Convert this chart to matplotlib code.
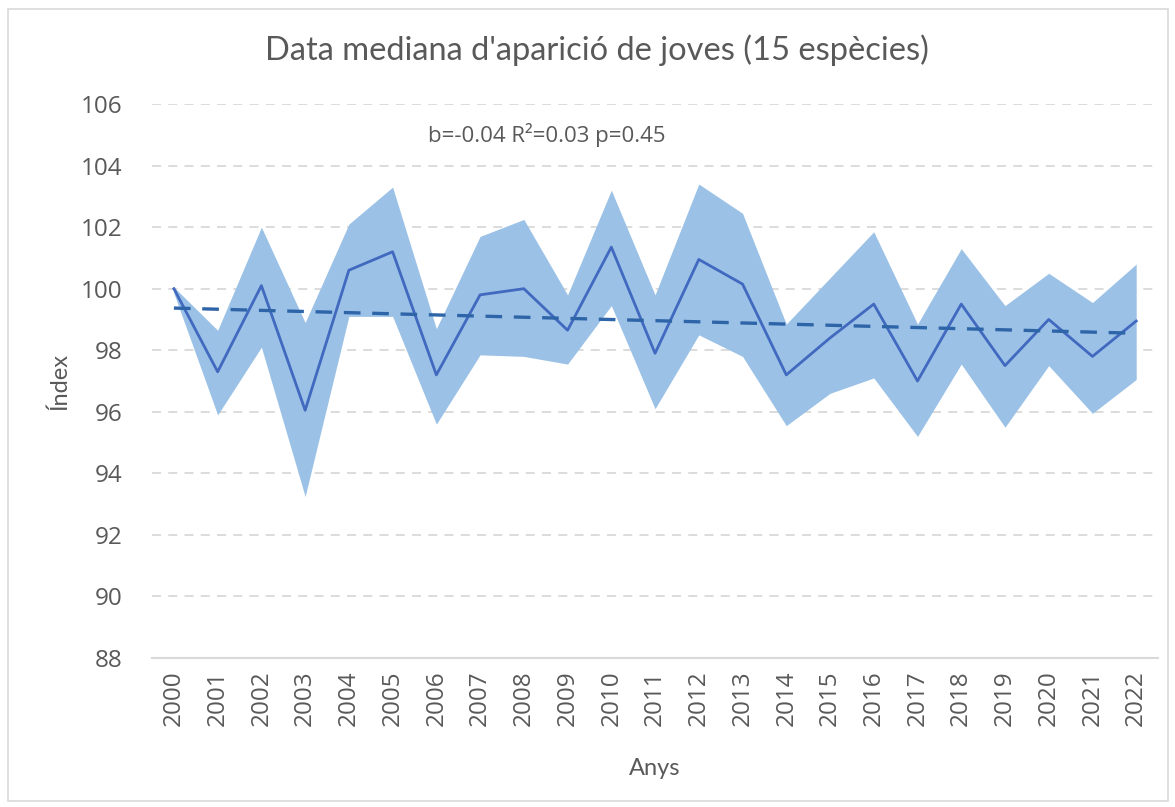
"""
Data mediana d'aparició de joves (15 espècies) — índex anual amb interval
"""

import numpy as np
import matplotlib
matplotlib.use('Agg')
import matplotlib.pyplot as plt
from matplotlib.patches import Rectangle

# ── Dades ─────────────────────────────────────────────────────────────────────
years = [str(y) for y in range(2000, 2023)]
index = [100.0, 97.3, 100.1, 96.05, 100.6, 101.2, 97.2, 99.8, 100.0, 98.65,
         101.35, 97.9, 100.95, 100.15, 97.2, 98.4, 99.5, 97.0, 99.5, 97.5,
         99.0, 97.8, 98.95]
upper = [100.05, 98.65, 102.0, 98.9, 102.1, 103.3, 98.7, 101.7, 102.25, 99.8,
         103.2, 99.8, 103.4, 102.45, 98.85, 100.35, 101.85, 98.85, 101.3, 99.45,
         100.5, 99.55, 100.8]
lower = [99.85, 95.9, 98.1, 93.25, 99.1, 99.1, 95.6, 97.85, 97.8, 97.55,
         99.45, 96.1, 98.5, 97.8, 95.55, 96.6, 97.1, 95.2, 97.55, 95.5,
         97.5, 95.95, 97.05]
stats_label = "b=-0.04 R²=0.03 p=0.45"
yticks = list(range(88, 107, 2))

x = np.arange(len(years))
idx = np.array(index)

# Tendència lineal
coef = np.polyfit(x, idx, 1)
trend = np.polyval(coef, x)

# ── Gràfic ────────────────────────────────────────────────────────────────────
txt = '#595959'
grid = '#D9D9D9'

fig = plt.figure(figsize=(11.75, 8.07), dpi=100)
ax = fig.add_axes([0.1294, 0.1846, 0.8562, 0.6865])

ax.fill_between(x, lower, upper, color='#9BC2E6', linewidth=0, zorder=2)
ax.plot(x, idx, color='#4169BF', linewidth=2.0, zorder=3)
ax.plot(x, trend, color='#2E64A8', linewidth=2.4, linestyle=(0, (5, 3.5)),
        zorder=4)

ax.set_xlim(-0.5, len(years) - 0.5)
ax.set_ylim(88, 106)
ax.set_yticks(yticks)
ax.set_xticks(x)
ax.set_xticklabels(years, rotation=90)

for y in yticks[1:]:
    ax.axhline(y, color=grid, linewidth=1.3, linestyle=(0, (5, 4)), zorder=1)

for s in ['top', 'right', 'left']:
    ax.spines[s].set_visible(False)
ax.spines['bottom'].set_color(grid)
ax.spines['bottom'].set_linewidth(1.5)
ax.tick_params(axis='both', length=0, colors=txt, labelsize=17.5)
ax.tick_params(axis='y', pad=21)
ax.tick_params(axis='x', pad=9)
for lab in ax.get_xticklabels() + ax.get_yticklabels():
    lab.set_fontfamily('Open Sans')

ax.set_xlabel('Anys', fontsize=17, color=txt, fontfamily='Lato', va='center')
ax.set_ylabel('Índex', fontsize=17, color=txt, fontfamily='Lato', va='center')
ax.xaxis.set_label_coords(0.5, -0.199)
ax.yaxis.set_label_coords(-0.092, 0.5)

ax.text(5.8, 105.0, stats_label, fontsize=16, color=txt, va='center',
        fontfamily='Open Sans')

fig.text(0.508, 0.938, "Data mediana d'aparició de joves (15 espècies)",
         ha='center', va='center', fontsize=23.5, color=txt, fontfamily='Lato')

# Vora de l'àrea del gràfic
fig.patches.append(Rectangle((8 / 1175, 6 / 807), 1160 / 1175, 792 / 807,
                             transform=fig.transFigure, fill=False,
                             edgecolor=grid, linewidth=1.2))

plt.savefig('out.png', dpi=100)
